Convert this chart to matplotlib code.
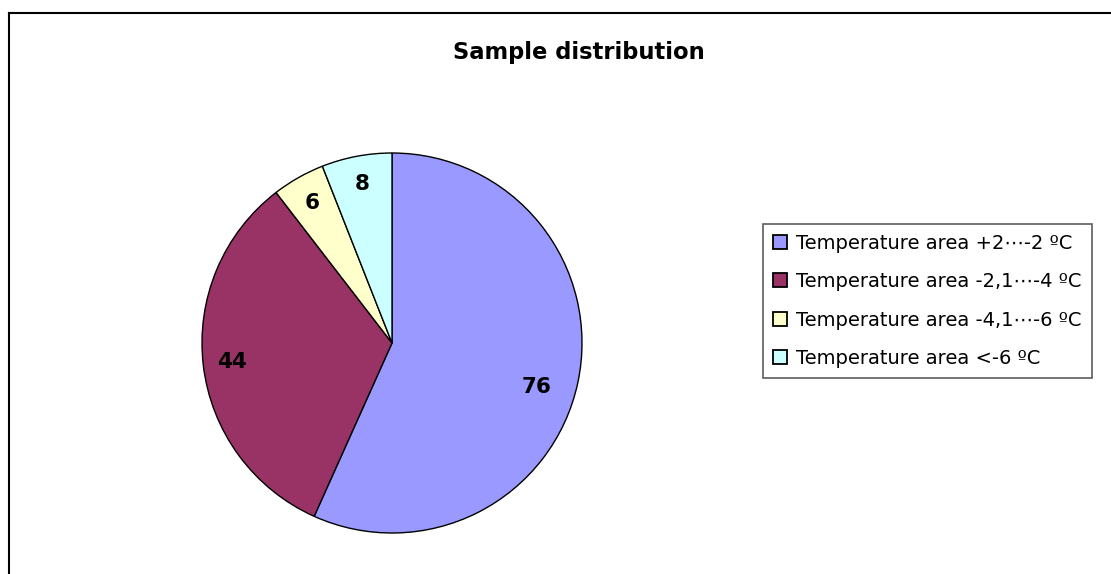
import matplotlib
matplotlib.use('Agg')
import matplotlib.pyplot as plt
from matplotlib.lines import Line2D
from matplotlib.patches import Patch

# Data
labels = ['Temperature area +2\u22ef-2 \u00baC',
          'Temperature area -2,1\u22ef-4 \u00baC',
          'Temperature area -4,1\u22ef-6 \u00baC',
          'Temperature area <-6 \u00baC']
counts = [76, 44, 6, 8]
colors = ['#9999FF', '#993366', '#FFFFCC', '#CCFFFF']

W, H = 1111, 574
fig = plt.figure(figsize=(W / 100, H / 100), dpi=100)

# outer chart frame (cut off at right and bottom)
fig.add_artist(Line2D([9 / W, 1.01], [1 - 13 / H, 1 - 13 / H], color='black', lw=1.5))
fig.add_artist(Line2D([9 / W, 9 / W], [1 - 13 / H, -0.01], color='black', lw=1.5))

# pie axes: center ~ (392, 343), radius ~ 190 px
cx, cy, r = 392, 343, 190
ax = fig.add_axes([(cx - r) / W, (H - cy - r) / H, 2 * r / W, 2 * r / H])
wedges, texts = ax.pie(counts, colors=colors, startangle=90, counterclock=False,
                       wedgeprops={'edgecolor': 'black', 'linewidth': 1.0},
                       labels=[str(c) for c in counts], labeldistance=0.85,
                       textprops={'fontsize': 15.5, 'fontweight': 'bold'})
for t in texts:
    t.set_horizontalalignment('center')
    t.set_verticalalignment('center')
# the big slice's label sits a bit lower and further in
texts[0].set_position((0.76, -0.23))
ax.set_aspect('equal')
ax.set_xlim(-1, 1)
ax.set_ylim(-1, 1)

fig.text(579 / W, 1 - 52 / H, 'Sample distribution', ha='center', va='center',
         fontsize=16.3, fontweight='bold')

handles = [Patch(facecolor=c, edgecolor='black', linewidth=1.3) for c in colors]
leg = fig.legend(handles, labels, loc='upper left',
                 bbox_to_anchor=(763 / W, 1 - 224 / H), fontsize=14,
                 frameon=True, fancybox=False, handlelength=0.72, handleheight=0.72,
                 handletextpad=0.5, labelspacing=1.0, borderpad=0.5,
                 borderaxespad=0)
leg.get_frame().set_edgecolor('#333333')
leg.get_frame().set_linewidth(1.2)

fig.savefig('out.png', dpi=100)
